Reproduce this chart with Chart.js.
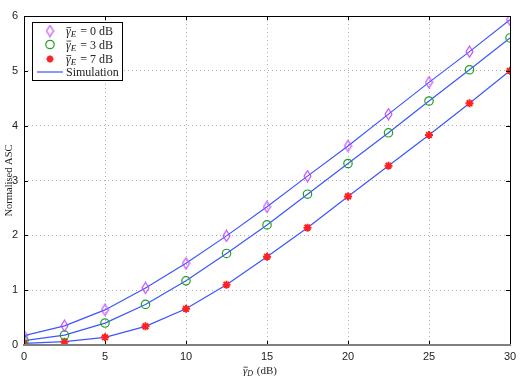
<!DOCTYPE html>
<html>
<head>
<meta charset="utf-8">
<style>
  body { margin: 0; background: #fff; }
  #wrap { width: 526px; height: 379px; }
</style>
</head>
<body>
<div id="wrap"><canvas id="ascChart" width="526" height="379"></canvas></div>
<script src="https://cdn.jsdelivr.net/npm/chart.js"></script>
<script>
// data
const snrD = [0, 2.5, 5, 7.5, 10, 12.5, 15, 17.5, 20, 22.5, 25, 27.5, 30];
const ascE0 = [0.17, 0.35, 0.64, 1.04, 1.49, 1.99, 2.52, 3.08, 3.63, 4.21, 4.79, 5.35, 5.93];
const ascE3 = [0.08, 0.18, 0.40, 0.74, 1.17, 1.67, 2.19, 2.75, 3.31, 3.87, 4.45, 5.02, 5.60];
const ascE7 = [0.03, 0.06, 0.14, 0.34, 0.66, 1.10, 1.61, 2.14, 2.71, 3.27, 3.83, 4.41, 5.00];
const xTicks = [0, 5, 10, 15, 20, 25, 30];
const yTicks = [0, 1, 2, 3, 4, 5, 6];
const legendLabels = ['0 dB', '3 dB', '7 dB', 'Simulation'];

const blue = '#3a55ff';
const purple = '#c03cff';
const green = '#22a022';
const red = '#ff2222';
const serif = '"Liberation Serif", "DejaVu Serif", serif';
const sans = '"Liberation Sans", Arial, sans-serif';

// taller-than-wide diamond marker
function makeDiamond() {
    const c = document.createElement('canvas');
    c.width = 9;
    c.height = 13;
    const g = c.getContext('2d');
    g.strokeStyle = purple;
    g.lineWidth = 1.1;
    g.beginPath();
    g.moveTo(4.5, 1);
    g.lineTo(8, 6.5);
    g.lineTo(4.5, 12);
    g.lineTo(1, 6.5);
    g.closePath();
    g.stroke();
    return c;
}
const diamond = makeDiamond();

function pts(ys) {
    return snrD.map((x, i) => ({ x: x, y: ys[i] }));
}

function simLine(ys) {
    return {
        type: 'line',
        data: pts(ys),
        borderColor: blue,
        borderWidth: 1.2,
        pointRadius: 0,
        tension: 0,
        fill: false,
        order: 5
    };
}

// draws gamma-bar with a subscript
function drawGammaBar(ctx, x, y, sub, size) {
    ctx.font = 'italic ' + size + 'px ' + serif;
    ctx.textAlign = 'left';
    ctx.textBaseline = 'alphabetic';
    ctx.fillText('γ', x, y);
    const gw = ctx.measureText('γ').width;
    ctx.beginPath();
    ctx.moveTo(x + 0.5, y - size * 0.62);
    ctx.lineTo(x + gw + 0.5, y - size * 0.62);
    ctx.lineWidth = 0.8;
    ctx.stroke();
    ctx.font = 'italic ' + Math.round(size * 0.72) + 'px ' + serif;
    ctx.fillText(sub, x + gw, y + 2);
    return x + gw + ctx.measureText(sub).width;
}

const framePlugin = {
    id: 'frame',
    afterDatasetsDraw(chart) {
        const ctx = chart.ctx;
        const a = chart.chartArea;
        const xs = chart.scales.x;
        const ys = chart.scales.y;
        ctx.save();
        ctx.strokeStyle = '#000';
        ctx.lineWidth = 1;
        ctx.beginPath();
        ctx.moveTo(a.left + 0.5, a.bottom);
        ctx.lineTo(a.left + 0.5, a.top + 0.5);
        ctx.lineTo(a.right + 0.5, a.top + 0.5);
        ctx.lineTo(a.right + 0.5, a.bottom);
        ctx.stroke();
        // inward ticks
        ctx.beginPath();
        xTicks.forEach(v => {
            const px = Math.round(xs.getPixelForValue(v)) + 0.5;
            ctx.moveTo(px, a.top);
            ctx.lineTo(px, a.top + 4);
            ctx.moveTo(px, a.bottom);
            ctx.lineTo(px, a.bottom - 4);
        });
        yTicks.forEach(v => {
            const py = Math.round(ys.getPixelForValue(v)) + 0.5;
            ctx.moveTo(a.left, py);
            ctx.lineTo(a.left + 4, py);
            ctx.moveTo(a.right, py);
            ctx.lineTo(a.right - 4, py);
        });
        ctx.stroke();
        ctx.strokeStyle = '#808080';
        ctx.lineWidth = 2;
        ctx.beginPath();
        ctx.moveTo(a.left - 1, a.bottom);
        ctx.lineTo(a.right + 1, a.bottom);
        ctx.stroke();

        // axis titles
        ctx.fillStyle = '#222';
        ctx.strokeStyle = '#222';
        const tx = (a.left + a.right) / 2 - 24;
        let ex = drawGammaBar(ctx, tx, 374, 'D', 11);
        ctx.font = '11px ' + serif;
        ctx.fillText(' (dB)', ex + 1, 374);

        ctx.save();
        ctx.translate(12, (a.top + a.bottom) / 2);
        ctx.rotate(-Math.PI / 2);
        ctx.font = '10.5px ' + serif;
        ctx.textAlign = 'center';
        ctx.fillText('Normalised ASC', 0, 0);
        ctx.restore();

        // legend box
        const lx = 32, ly = 22, lw = 90, lh = 58;
        ctx.fillStyle = '#fff';
        ctx.fillRect(lx, ly, lw, lh);
        ctx.strokeStyle = '#000';
        ctx.lineWidth = 1;
        ctx.strokeRect(lx + 0.5, ly + 0.5, lw, lh);
        const rows = [31, 44.5, 59, 72];
        ctx.drawImage(diamond, 45.5, rows[0] - 6.5);
        ctx.strokeStyle = green;
        ctx.lineWidth = 1.2;
        ctx.beginPath();
        ctx.arc(50, rows[1], 4.2, 0, Math.PI * 2);
        ctx.stroke();
        ctx.strokeStyle = red;
        ctx.lineWidth = 2;
        ctx.beginPath();
        for (let k = 0; k < 4; k++) {
            const ang = k * Math.PI / 4;
            ctx.moveTo(50 - 3.5 * Math.cos(ang), rows[2] - 3.5 * Math.sin(ang));
            ctx.lineTo(50 + 3.5 * Math.cos(ang), rows[2] + 3.5 * Math.sin(ang));
        }
        ctx.stroke();
        ctx.strokeStyle = blue;
        ctx.lineWidth = 1.2;
        ctx.beginPath();
        ctx.moveTo(37, rows[3]);
        ctx.lineTo(63, rows[3]);
        ctx.stroke();

        ctx.fillStyle = '#222';
        ctx.strokeStyle = '#222';
        for (let r = 0; r < 3; r++) {
            const end = drawGammaBar(ctx, 66, rows[r] + 4, 'E', 12);
            ctx.font = '12px ' + serif;
            ctx.fillText(' = ' + legendLabels[r], end + 1, rows[r] + 4);
        }
        ctx.font = '12px ' + serif;
        ctx.fillText(legendLabels[3], 66, rows[3] + 4);
        ctx.restore();
    }
};

const ctx = document.getElementById('ascChart').getContext('2d');
new Chart(ctx, {
    type: 'scatter',
    data: {
        datasets: [
            simLine(ascE0),
            simLine(ascE3),
            simLine(ascE7),
            {
                data: pts(ascE0),
                pointStyle: diamond,
                pointRadius: 5,
                order: 1
            },
            {
                data: pts(ascE3),
                pointStyle: 'circle',
                pointRadius: 4.2,
                borderColor: green,
                backgroundColor: 'rgba(0,0,0,0)',
                borderWidth: 1.2,
                order: 1
            },
            {
                data: pts(ascE7),
                pointStyle: 'star',
                pointRadius: 4,
                borderColor: red,
                backgroundColor: red,
                borderWidth: 2,
                order: 1
            }
        ]
    },
    options: {
        responsive: false,
        animation: false,
        layout: { padding: { top: 16, right: 16, left: 0, bottom: 0 } },
        plugins: {
            legend: { display: false },
            tooltip: { enabled: false }
        },
        scales: {
            x: {
                type: 'linear',
                min: 0,
                max: 30,
                afterFit: s => { s.height = 34; },
                afterBuildTicks: s => { s.ticks = xTicks.map(v => ({ value: v })); },
                grid: { color: '#b0b0b0', drawTicks: false, lineWidth: 1 },
                border: { display: false, dash: [1, 3] },
                ticks: { color: '#222', padding: 5, font: { family: sans, size: 11 }, maxRotation: 0 }
            },
            y: {
                min: 0,
                max: 6,
                afterFit: s => { s.width = 24; },
                afterBuildTicks: s => { s.ticks = yTicks.map(v => ({ value: v })); },
                grid: { color: '#b0b0b0', drawTicks: false, lineWidth: 1 },
                border: { display: false, dash: [1, 3] },
                ticks: { color: '#222', padding: 6, font: { family: sans, size: 11 } }
            }
        }
    },
    plugins: [framePlugin]
});
</script>
</body>
</html>
